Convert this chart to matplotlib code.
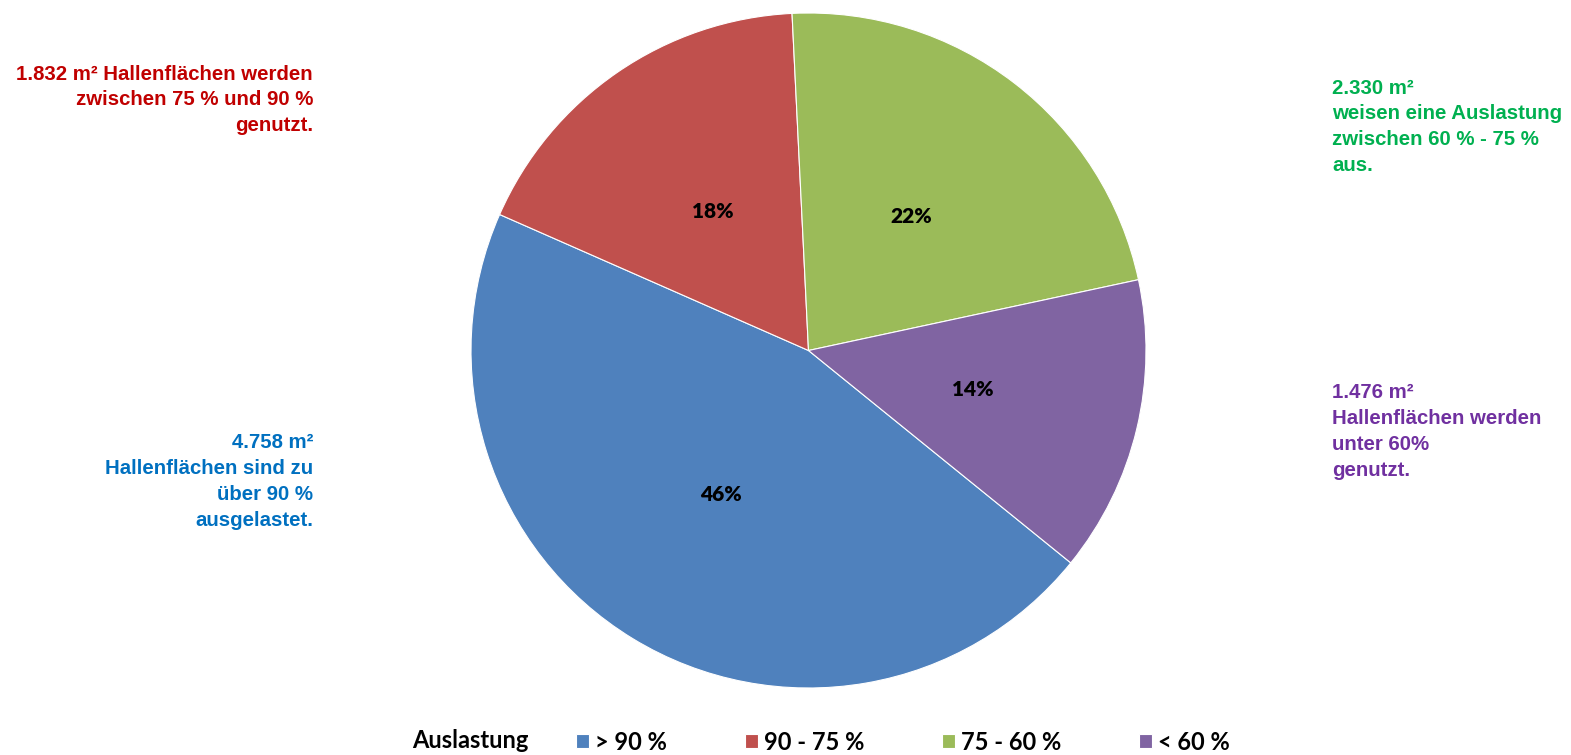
import numpy as np
import matplotlib
matplotlib.use("Agg")
import matplotlib.pyplot as plt

# Daten
kategorien = ["> 90 %", "90 - 75 %", "75 - 60 %", "< 60 %"]
flaechen = [4758, 1832, 2330, 1476]
farben = ["#4F81BD", "#C0504D", "#9BBB59", "#8064A2"]
textfarben = ["#0070C0", "#C00000", "#00B050", "#7030A0"]
beschriftung = [
    "4.758 m²\nHallenflächen sind zu\nüber 90 %\nausgelastet.",
    "1.832 m² Hallenflächen werden\nzwischen 75 % und 90 %\ngenutzt.",
    "2.330 m²\nweisen eine Auslastung\nzwischen 60 % - 75 %\naus.",
    "1.476 m²\nHallenflächen werden\nunter 60%\ngenutzt.",
]

W, H = 1571, 755
fig = plt.figure(figsize=(W/100, H/100), dpi=100)

# Kreis: Mitte (808.5, 350.5) px, Radius 337.5 px
cx, cy, r = 808.5, 350.5, 337.5
ax = fig.add_axes([(cx-r)/W, (H-cy-r)/H, 2*r/W, 2*r/H])

wedges, texts, autotexts = ax.pie(
    flaechen, colors=farben, startangle=-39, counterclock=False,
    autopct="%1.0f%%", pctdistance=0.5, radius=1,
    wedgeprops=dict(edgecolor="white", linewidth=0.8),
    textprops=dict(fontsize=15, fontweight="heavy", color="black", family="Lato"),
)
ax.set_xlim(-1, 1)
ax.set_ylim(-1, 1)
ax.set_aspect("equal")
ax.axis("off")

# Textbloecke (Pixelposition der ersten Zeile, Ausrichtung)
pos = [(313, 443, "right"), (313, 74, "right"), (1332, 88, "left"), (1332, 393, "left")]
for (x, y, ha), txt, c in zip(pos, beschriftung, textfarben):
    for i, zeile in enumerate(txt.split("\n")):
        fig.text(x/W, 1 - (y + i*25.8)/H, zeile, ha=ha, va="center",
                 color=c, fontsize=14.7, fontweight="bold", family="Liberation Sans")

# Legende
fig.text(412/W, 1 - 741/H, "Auslastung", ha="left", va="center",
         fontsize=17, fontweight="bold", family="Lato")
fig.legend(wedges, kategorien, loc="center left", bbox_to_anchor=(555/W, 1 - 742/H),
           ncol=4, frameon=False, handlelength=0.55, handleheight=0.55,
           handletextpad=0.25, columnspacing=3.3,
           prop=dict(size=17, weight="bold", family="Lato"))

fig.savefig("out.png", dpi=100)
